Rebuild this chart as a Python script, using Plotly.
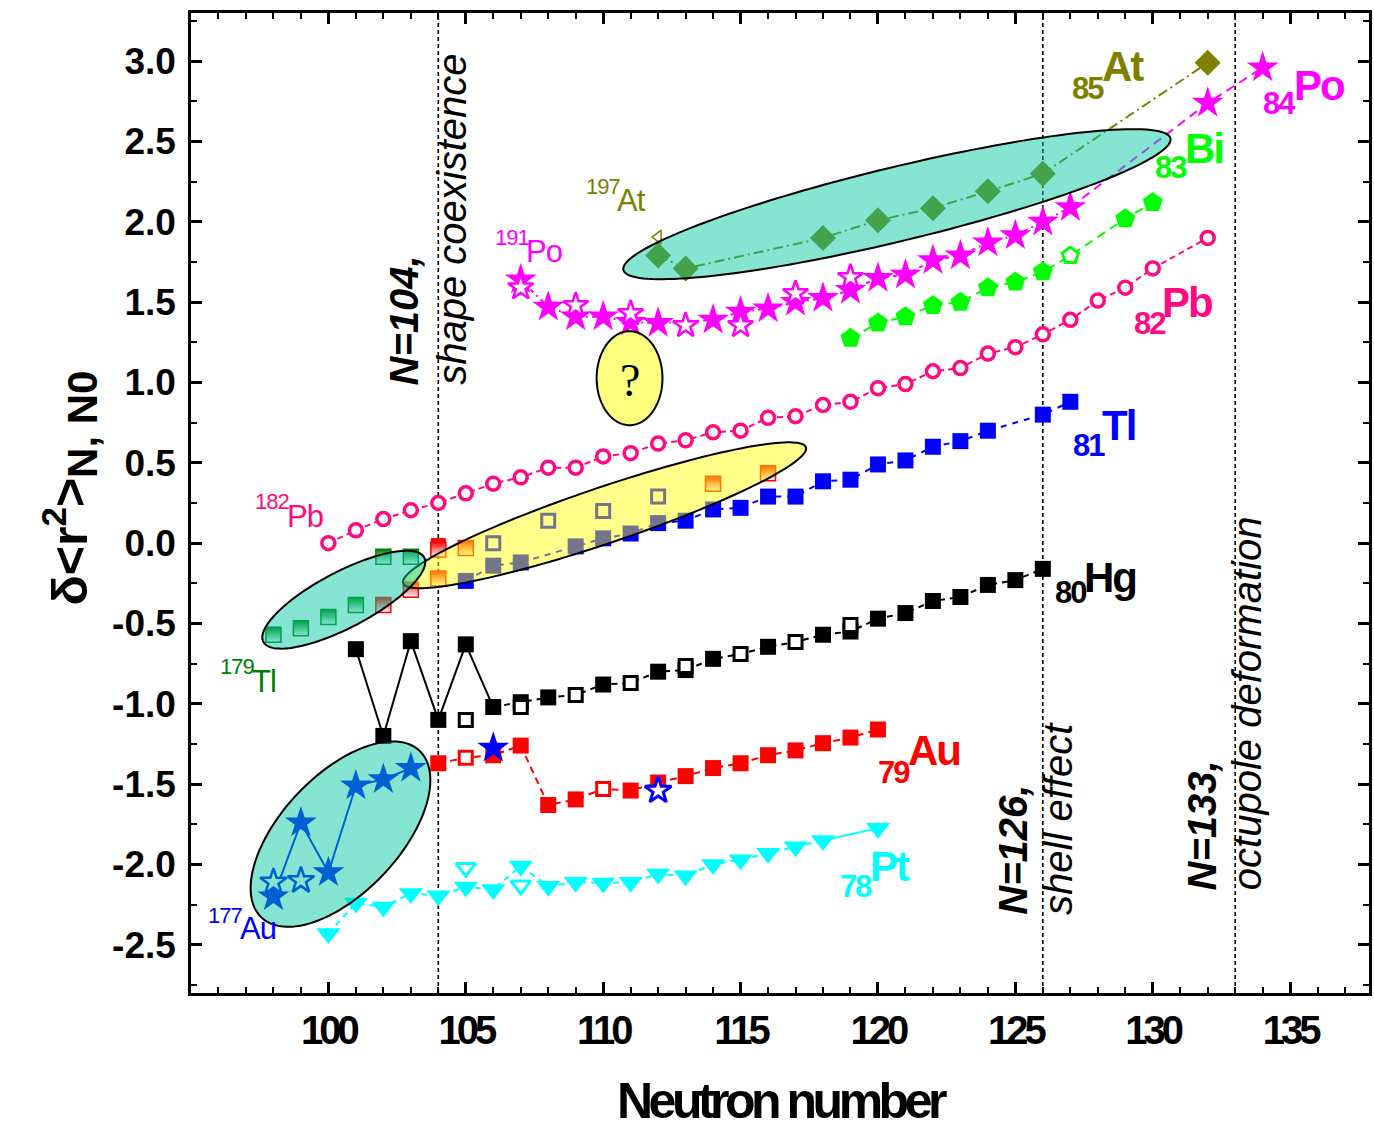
import numpy as np
import plotly.graph_objects as go

# ---------------- data ----------------
# 82Pb (open circles)
pb_n = [100,101,102,103,104,105,106,107,108,109,110,111,112,113,114,115,116,117,118,119,120,
        121,122,123,124,125,126,127,128,129,130,132]
pb_v = [0.0,0.08,0.15,0.205,0.25,0.31,0.37,0.41,0.47,0.47,0.54,0.56,0.62,0.64,0.69,0.70,0.78,
        0.79,0.86,0.88,0.965,0.99,1.07,1.09,1.18,1.22,1.30,1.39,1.51,1.59,1.71,1.90]

# 81Tl
tl_n = [105,106,107,109,110,111,112,113,114,115,116,117,118,119,120,121,122,123,124,126,127]
tl_v = [-0.235,-0.14,-0.12,-0.02,0.03,0.06,0.125,0.14,0.21,0.22,0.29,0.29,0.385,0.395,0.49,
        0.515,0.60,0.635,0.70,0.80,0.88]
tl_iso_n = [106,108,110,112]
tl_iso_v = [0.0,0.14,0.20,0.29]
tl_green_n = [98,99,100,101,102,103]
tl_green_v = [-0.57,-0.53,-0.46,-0.385,-0.085,-0.085]
tl_red_n = [102,103,104,104,105,114,116]
tl_red_v = [-0.385,-0.29,-0.04,-0.22,-0.03,0.37,0.435]
tl_redfill_n = [104]
tl_redfill_v = [-0.015]

# 80Hg
hg_n = [101,102,103,104,105,106,107,108,110,112,113,114,116,118,119,120,121,122,123,124,125,126]
hg_v = [-0.66,-1.20,-0.61,-1.10,-0.63,-1.02,-0.99,-0.96,-0.88,-0.80,-0.79,-0.72,-0.645,-0.57,
        -0.55,-0.47,-0.435,-0.36,-0.335,-0.26,-0.23,-0.16]
hg_iso_n = [105,107,109,111,113,115,117,119]
hg_iso_v = [-1.10,-1.02,-0.945,-0.87,-0.765,-0.69,-0.615,-0.51]

# 79Au
au_n = [104,106,107,108,109,111,112,113,114,115,116,117,118,119,120]
au_v = [-1.37,-1.32,-1.26,-1.63,-1.595,-1.54,-1.49,-1.45,-1.40,-1.37,-1.32,-1.29,-1.245,-1.21,-1.16]
au_iso_n = [105,110]
au_iso_v = [-1.335,-1.53]
au_star_n = [98,99,100,101,102,103]
au_star_v = [-2.20,-1.74,-2.05,-1.51,-1.47,-1.40]
au_star_iso_n = [98,99]
au_star_iso_v = [-2.11,-2.10]
au_xstar_n = [106]
au_xstar_v = [-1.275]
au_xstar_iso_n = [112]
au_xstar_iso_v = [-1.54]

# 78Pt
pt_n = [100,101,102,103,104,105,106,107,108,109,110,111,112,113,114,115,116,117,118,120]
pt_v = [-2.43,-2.24,-2.265,-2.18,-2.195,-2.14,-2.155,-2.01,-2.135,-2.11,-2.115,-2.11,-2.06,
        -2.07,-2.0,-1.97,-1.93,-1.89,-1.85,-1.775]
pt_iso_n = [105,107]
pt_iso_v = [-2.02,-2.13]

# 84Po
po_n = [107,108,109,110,111,112,114,115,116,117,118,119,120,121,122,123,124,125,126,127,132,134]
po_v = [1.64,1.47,1.41,1.41,1.375,1.37,1.39,1.44,1.46,1.50,1.525,1.575,1.65,1.67,1.76,1.79,
        1.87,1.915,2.0,2.09,2.74,2.96]
po_iso_n = [107,109,111,113,115,117,119]
po_iso_v = [1.59,1.48,1.43,1.355,1.355,1.555,1.655]

# 83Bi
bi_n = [119,120,121,122,123,124,125,126,129,130]
bi_v = [1.275,1.37,1.41,1.48,1.50,1.59,1.625,1.69,2.02,2.12]
bi_iso_n = [127]
bi_iso_v = [1.79]

# 85At
at_n = [112,113,118,120,122,124,126,132]
at_v = [1.79,1.71,1.90,2.01,2.085,2.19,2.30,2.99]
at_iso_n = [112,113]
at_iso_v = [1.905,1.72]

x_ticks = [100,105,110,115,120,125,130,135]
y_ticks = [-2.5,-2.0,-1.5,-1.0,-0.5,0.0,0.5,1.0,1.5,2.0,2.5,3.0]
special_n = [104,126,133]

# ---------------- layout constants ----------------
W, H = 1374, 1131
ML, MR, MT, MB = 191, 2, 13, 138
XR = [95, 137.87]
YR = [-2.80, 3.30]
PX_N = (W - ML - MR) / (XR[1] - XR[0])
PX_V = (H - MT - MB) / (YR[1] - YR[0])

SANS = "Liberation Sans, Arial, sans-serif"

PB = '#FF0A80'; TL = '#0000FF'; HG = '#000000'; AU = '#FF0000'; PT = '#00FFFF'
PO = '#FF00FF'; BI = '#00FF00'; AT = '#808000'; GRN = '#008000'


def tight(text, ls):
    return f'<span style="letter-spacing:{ls}px">{text}</span>'


fig = go.Figure()


def merged(n1, v1, n2, v2):
    d = dict(zip(n2, v2))
    d.update(dict(zip(n1, v1)))
    ks = sorted(d)
    return ks, [d[k] for k in ks]


def line(x, y, color, dash, width=2):
    fig.add_trace(go.Scatter(x=x, y=y, mode='lines', hoverinfo='skip',
                             line=dict(color=color, dash=dash, width=width)))


def mark(x, y, symbol, size, fill, edge, lw=0, grad=None):
    m = dict(symbol=symbol, size=size, color=fill, line=dict(color=edge, width=lw))
    if grad:
        m['gradient'] = dict(type='vertical', color=grad)
    fig.add_trace(go.Scatter(x=x, y=y, mode='markers', marker=m))


# --- lines ---
line(pb_n, pb_v, PB, '6px,4px')
line(tl_n, tl_v, TL, '6px,6px')
hx, hy = merged(hg_n, hg_v, hg_iso_n, hg_iso_v)
hg_d = dict(zip(hg_n, hg_v))
line([n for n in hg_n if n <= 106], [hg_d[n] for n in hg_n if n <= 106], HG, 'solid')
line([n for n in hx if n >= 106], [v for n, v in zip(hx, hy) if n >= 106], HG, '6px,5px')
ax, ay = merged(au_n, au_v, au_iso_n, au_iso_v)
line(ax, ay, AU, '7px,5px')
line(au_star_n, au_star_v, '#0000FF', 'solid')
line([n for n in pt_n if n <= 118], [v for n, v in zip(pt_n, pt_v) if n <= 118], PT, '6px,5px')
line([n for n in pt_n if n >= 118], [v for n, v in zip(pt_n, pt_v) if n >= 118], PT, 'solid')
line([n for n in po_n if n <= 127], [v for n, v in zip(po_n, po_v) if n <= 127], PO, '4px,4px,2px,4px')
line([n for n in po_n if n >= 127], [v for n, v in zip(po_n, po_v) if n >= 127], PO, '9px,6px')
bx, by = merged(bi_n, bi_v, bi_iso_n, bi_iso_v)
line(bx, by, BI, '9px,6px')
line(at_n, at_v, AT, '10px,4px,2px,4px')

# --- markers ---
mark(pb_n, pb_v, 'circle', 13, 'white', PB, 3.5)
mark(tl_n, tl_v, 'square', 16, TL, TL, 0)
mark(tl_iso_n, tl_iso_v, 'square', 13, 'white', TL, 3)
mark(tl_green_n, tl_green_v, 'square', 15, GRN, GRN, 1.5, grad='white')
mark(tl_redfill_n, tl_redfill_v, 'square', 15, AU, AU, 0)
mark(tl_red_n, tl_red_v, 'square', 15, AU, AU, 1.5, grad='white')
mark(hg_n, hg_v, 'square', 16, HG, HG, 0)
mark(hg_iso_n, hg_iso_v, 'square', 13, 'white', HG, 3)
mark(au_n, au_v, 'square', 16, AU, AU, 0)
mark(au_iso_n, au_iso_v, 'square', 13, 'white', AU, 3)
mark(au_star_n, au_star_v, 'star', 24, '#0000FF', '#0000FF', 0)
mark(au_star_iso_n, au_star_iso_v, 'star', 20, 'white', '#0000FF', 2.5)
mark(au_xstar_n, au_xstar_v, 'star', 24, '#0000FF', '#0000FF', 0)
mark(au_xstar_iso_n, au_xstar_iso_v, 'star', 20, 'white', '#0000FF', 3)
mark(pt_n, pt_v, 'triangle-down', 21, PT, PT, 0)
mark(pt_iso_n, pt_iso_v, 'triangle-down', 17, 'white', PT, 3)
mark(po_n, po_v, 'star', 24, PO, PO, 0)
mark(po_iso_n, po_iso_v, 'star', 19, 'white', PO, 2.5)
mark(bi_n, bi_v, 'pentagon', 21, BI, BI, 0)
mark(bi_iso_n, bi_iso_v, 'pentagon', 17, 'white', BI, 3)
mark(at_n, at_v, 'diamond', 20, AT, AT, 0)
mark(at_iso_n, at_iso_v, 'triangle-left-open', 12, AT, AT, 1.5)


# ---------------- shapes ----------------
def ellipse_path(cn, cv, a_px, b_px, ang_deg, npts=160):
    t = np.linspace(0, 2 * np.pi, npts, endpoint=False)
    th = np.radians(ang_deg)
    dx = a_px * np.cos(t) * np.cos(th) - b_px * np.sin(t) * np.sin(th)
    dy = a_px * np.cos(t) * np.sin(th) + b_px * np.sin(t) * np.cos(th)
    xs = cn + dx / PX_N
    ys = cv + dy / PX_V
    return "M " + " L ".join(f"{x:.4f},{y:.4f}" for x, y in zip(xs, ys)) + " Z"


TEAL = 'rgba(0,200,160,0.48)'
YEL = 'rgba(255,255,0,0.46)'
shapes = []
for n in special_n:
    shapes.append(dict(type='line', xref='x', yref='paper', x0=n, x1=n, y0=0, y1=1,
                       line=dict(color='black', width=1.6, dash='4px,3px'), layer='below'))
ellipses = [
    (120.69, 2.110, 282, 37, 13.5, TEAL),
    (110.05, 0.174, 213, 28, 18.6, YEL),
    (100.56, -0.352, 91, 28, 27.6, TEAL),
    (100.44, -1.811, 115, 59, 46.4, TEAL),
    (110.96, 1.027, 33, 47, 0.0, 'rgba(255,255,0,0.50)'),
]
for cn, cv, a, b, ang, col in ellipses:
    shapes.append(dict(type='path', xref='x', yref='y', path=ellipse_path(cn, cv, a, b, ang),
                       fillcolor=col, line=dict(color='black', width=2), layer='above'))

# ---------------- annotations ----------------
ann = []


def label(x, y, text, size, color, family=SANS, bold=True, italic=False, angle=0,
          xanchor='center', yanchor='middle'):
    t = text
    if italic:
        t = f"<i>{t}</i>"
    if bold:
        t = f"<b>{t}</b>"
    ann.append(dict(x=x, y=y, xref='x', yref='y', text=t, showarrow=False, borderpad=0,
                    borderwidth=0, font=dict(family=family, size=size, color=color),
                    textangle=angle, xanchor=xanchor, yanchor=yanchor))


# element labels: symbol (left edge), proton number (right edge)
for sym, num, sx, sy, nx, ny, col in [
    ('At', '85', 128.17, 2.969, 128.22, 2.832, AT),
    ('Po', '84', 135.14, 2.851, 135.22, 2.739, PO),
    ('Bi', '83', 131.18, 2.458, 131.26, 2.340, BI),
    ('Pb', '82', 130.34, 1.500, 130.46, 1.369, PB),
    ('Tl', '81', 128.17, 0.734, 128.25, 0.610, TL),
    ('Hg', '80', 127.48, -0.212, 127.56, -0.305, HG),
    ('Au', '79', 121.09, -1.288, 121.17, -1.425, AU),
    ('Pt', '78', 119.71, -2.010, 119.79, -2.135, PT),
]:
    label(sx, sy, tight(sym, -2), 42, col, xanchor='left')
    label(nx, ny, tight(num, -2), 31, col, xanchor='right')

# isotope labels
for sym, num, sx, sy, nx, ny, col in [
    ('At', '197', 110.49, 2.135, 110.62, 2.222, AT),
    ('Po', '191', 107.19, 1.817, 107.30, 1.905, PO),
    ('Pb', '182', 98.48, 0.168, 98.58, 0.261, PB),
    ('Tl', '179', 97.21, -0.859, 97.31, -0.766, GRN),
    ('Au', '177', 96.77, -2.400, 96.87, -2.320, '#0000FF'),
]:
    label(sx, sy, tight(sym, -1), 31, col, bold=False, xanchor='left')
    label(nx, ny, tight(num, -1), 22, col, bold=False, xanchor='right')

# vertical annotations
label(102.76, 0.983, 'N=104,', 40, 'black', bold=True, italic=True, angle=-90, yanchor='bottom')
label(104.50, 0.983, 'shape coexistence', 40, 'black', bold=False, italic=True, angle=-90,
      yanchor='bottom')
label(124.90, -2.315, 'N=126,', 40, 'black', bold=True, italic=True, angle=-90, yanchor='bottom')
label(126.53, -2.315, 'shell effect', 40, 'black', bold=False, italic=True, angle=-90,
      yanchor='bottom')
label(131.80, -2.160, 'N=133,', 40, 'black', bold=True, italic=True, angle=-90, yanchor='bottom')
label(133.43, -2.160, 'octupole deformation', 40, 'black', bold=False, italic=True, angle=-90,
      yanchor='bottom')
label(110.96, 1.015, '?', 46, 'black', family='Liberation Serif, DejaVu Serif, serif', bold=False)

# axis titles
ann.append(dict(xref='paper', yref='paper', x=0.502, y=-0.110, showarrow=False,
                text='<b>' + tight('Neutron number', -4.5) + '</b>',
                font=dict(family=SANS, size=50, color='black'),
                xanchor='center', yanchor='middle'))
ann.append(dict(xref='paper', yref='paper', x=-0.1025, y=0.515, showarrow=False, textangle=-90,
                text='<b>δ&lt;r<sup>2</sup>&gt;<sub><span style="font-size:42px">N, N0</span></sub></b>',
                font=dict(family=SANS, size=50, color='black'),
                xanchor='center', yanchor='middle'))

axis_common = dict(showline=True, linewidth=2.5, linecolor='black', mirror='allticks',
                   ticks='inside', ticklen=11, tickwidth=2.5, tickcolor='black',
                   showgrid=False, zeroline=False)

fig.update_layout(
    width=W, height=H,
    margin=dict(l=ML, r=MR, t=MT, b=MB, pad=0),
    plot_bgcolor='white', paper_bgcolor='white',
    showlegend=False,
    shapes=shapes, annotations=ann,
    xaxis=dict(range=XR, tickmode='array', tickvals=x_ticks,
               ticktext=[tight(str(v), -4) for v in x_ticks],
               tickfont=dict(family=SANS, size=40, color='black', weight='bold'),
               ticklabelstandoff=0,
               minor=dict(dtick=1, tick0=95, ticks='inside', ticklen=6, tickwidth=2,
                          tickcolor='black', showgrid=False),
               **axis_common),
    yaxis=dict(range=YR, tickmode='array', tickvals=y_ticks,
               ticktext=[f"{v:.1f}" for v in y_ticks],
               tickfont=dict(family=SANS, size=37, color='black', weight='bold'),
               ticklabelstandoff=5,
               minor=dict(dtick=0.25, tick0=0, ticks='inside', ticklen=6, tickwidth=2,
                          tickcolor='black', showgrid=False),
               **axis_common),
)

fig.write_html("out.html", config={'displayModeBar': False},
               post_script="document.body.style.margin='0';document.body.style.overflow='hidden';")
